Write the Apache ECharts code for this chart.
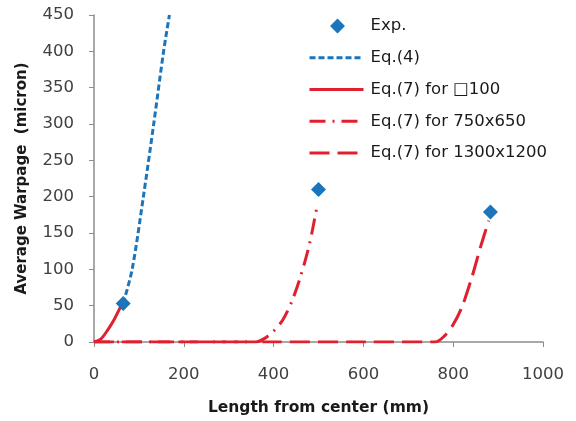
<!DOCTYPE html>
<html><head><meta charset="utf-8">
<script src="https://cdn.jsdelivr.net/npm/echarts@6/dist/echarts.min.js"></script>
<style>html,body{margin:0;padding:0;background:#fff}#c{width:576px;height:421px}</style>
</head><body><div id="c"></div>
<script>
// Data
const expX = [65, 500, 883];
const expY = [53, 210, 179];
const eq4X = [65, 85, 110, 133, 155, 168];
const eq4Y = [53, 100, 200, 300, 400, 450];
const sq100X = [0, 15, 30, 45, 62];
const sq100Y = [0, 4, 16, 31, 52];
const s750X = [0, 100, 200, 300, 360, 380, 400, 420, 440, 460, 480, 497];
const s750Y = [0, 0, 0, 0, 0, 5, 15, 30, 55, 90, 135, 188];
const s1300X = [0, 200, 400, 600, 760, 780, 800, 820, 842, 861, 879];
const s1300Y = [0, 0, 0, 0, 0, 8, 24, 49, 90, 131, 167];
const xTicks = [0, 200, 400, 600, 800, 1000];
const yTicks = [0, 50, 100, 150, 200, 250, 300, 350, 400, 450];
const legendNames = ['Exp.', 'Eq.(4)', 'Eq.(7) for \u25a1100', 'Eq.(7) for 750x650', 'Eq.(7) for 1300x1200'];

const zip = (a, b) => a.map((v, i) => [v, b[i]]);
const BLUE = '#1a75bc', RED = '#e0202f';
const FONT = 'DejaVu Sans';
const DIAMOND_ICON = 'path://M0,7.5L0.01,7.5M28,0L35.5,7.5L28,15L20.5,7.5ZM54,7.5L53.99,7.5';
const hiddenSym = { opacity: 0 };

const chart = echarts.init(document.getElementById('c'));
chart.setOption({
  animation: false,
  textStyle: { fontFamily: FONT },
  grid: { left: 94, right: 33, top: 15, bottom: 76 },
  xAxis: {
    type: 'value', min: xTicks[0], max: xTicks[xTicks.length - 1], interval: 200,
    name: 'Length from center (mm)', nameLocation: 'middle', nameGap: 58,
    nameTextStyle: { fontSize: 15.5, fontWeight: 'bold', color: '#1a1a1a', fontFamily: FONT },
    axisLine: { lineStyle: { color: '#8c8c8c', width: 1.5 } },
    axisTick: { show: true, length: 5, lineStyle: { color: '#8c8c8c' } },
    axisLabel: { fontSize: 16.5, color: '#404040', margin: 24, formatter: v => String(v) },
    splitLine: { show: false }
  },
  yAxis: {
    type: 'value', min: yTicks[0], max: yTicks[yTicks.length - 1], interval: 50,
    name: 'Average Warpage  (micron)', nameLocation: 'middle', nameGap: 64,
    nameTextStyle: { fontSize: 15, fontWeight: 'bold', color: '#1a1a1a', fontFamily: FONT },
    axisLine: { show: true, lineStyle: { color: '#8c8c8c', width: 1.5 } },
    axisTick: { show: true, length: 5, lineStyle: { color: '#8c8c8c' } },
    axisLabel: { fontSize: 16.5, color: '#404040', margin: 20 },
    splitLine: { show: false }
  },
  legend: {
    orient: 'vertical', left: 303, top: 12, itemWidth: 54, itemHeight: 15, itemGap: 13.75,
    lineStyle: { width: 3 },
    textStyle: { fontSize: 16.5, lineHeight: 18, color: '#1a1a1a', fontFamily: FONT, padding: [0, 0, 0, 2] },
    data: [
      { name: legendNames[0], icon: DIAMOND_ICON },
      { name: legendNames[1], itemStyle: hiddenSym },
      { name: legendNames[2], itemStyle: hiddenSym },
      { name: legendNames[3], itemStyle: hiddenSym },
      { name: legendNames[4], itemStyle: hiddenSym }
    ]
  },
  series: [
    { name: legendNames[1], type: 'line', data: zip(eq4X, eq4Y), smooth: 0.3,
      symbol: 'none', lineStyle: { color: BLUE, width: 3, type: [6, 3] }, itemStyle: { color: BLUE, opacity: 0 }, z: 2 },
    { name: legendNames[2], type: 'line', data: zip(sq100X, sq100Y), smooth: 0.3,
      symbol: 'none', lineStyle: { color: RED, width: 3 }, itemStyle: { color: RED, opacity: 0 }, z: 3 },
    { name: legendNames[3], type: 'line', data: zip(s750X, s750Y), smooth: 0.3,
      symbol: 'none', lineStyle: { color: RED, width: 3, type: [16, 7, 2, 7] }, itemStyle: { color: RED, opacity: 0 }, z: 3 },
    { name: legendNames[4], type: 'line', data: zip(s1300X, s1300Y), smooth: 0.3,
      symbol: 'none', lineStyle: { color: RED, width: 3, type: [20, 8] }, itemStyle: { color: RED, opacity: 0 }, z: 3 },
    { name: legendNames[0], type: 'scatter', data: zip(expX, expY), symbol: 'diamond', symbolSize: 15,
      itemStyle: { color: BLUE, opacity: 1 }, z: 5 }
  ]
});
</script></body></html>
